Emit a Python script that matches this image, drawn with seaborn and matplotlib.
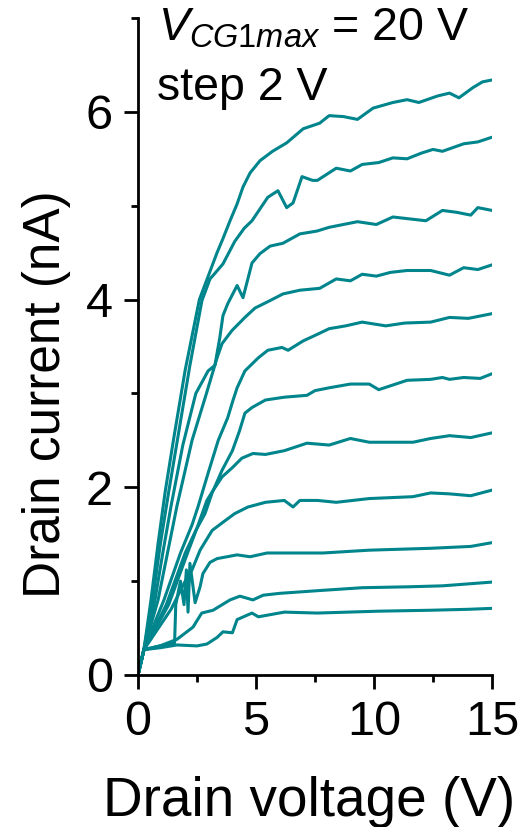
import numpy as np
import pandas as pd
import matplotlib
matplotlib.use("Agg")
import matplotlib.pyplot as plt
import seaborn as sns

# output curves, V_CG1 = 20 V down to 0 V in 2 V steps
V_20 = [0, 0.25, 0.55, 0.85, 1.15, 1.5, 2.0, 2.6, 3.05, 3.35, 3.6, 3.9, 4.2, 4.45, 4.75, 5.17, 5.7,
        6.3, 7.0, 7.7, 8.1, 8.7, 9.3, 9.96, 10.8, 11.4, 11.9, 12.7, 13.2, 13.6, 14.2, 14.6, 15]
I_20 = [0, 0.27, 0.8, 1.4, 1.95, 2.5, 3.25, 4.0, 4.3, 4.5, 4.65, 4.84, 5.02, 5.2, 5.35, 5.48, 5.58,
        5.67, 5.82, 5.88, 5.96, 5.95, 5.92, 6.04, 6.1, 6.13, 6.10, 6.17, 6.2, 6.15, 6.26, 6.32, 6.34]

V_18 = [0, 0.25, 0.62, 0.95, 1.3, 1.7, 2.2, 2.71, 3.05, 3.26, 3.6, 4.1, 4.5, 4.83, 5.5, 5.93, 6.3,
        6.57, 6.95, 7.4, 7.6, 8.4, 9.0, 9.5, 10.2, 10.8, 11.4, 12.0, 12.5, 12.9, 13.8, 14.4, 15]
I_18 = [0, 0.27, 0.8, 1.4, 1.95, 2.55, 3.3, 3.99, 4.22, 4.28, 4.38, 4.62, 4.76, 4.84, 5.09, 5.16, 4.98,
        5.03, 5.31, 5.27, 5.27, 5.4, 5.37, 5.44, 5.46, 5.51, 5.5, 5.56, 5.6, 5.58, 5.66, 5.68, 5.73]

V_16 = [0, 0.25, 0.72, 1.05, 1.4, 1.9, 2.45, 2.97, 3.26, 3.47, 3.6, 3.81, 4.2, 4.45, 4.83, 5.17, 5.6,
        6.14, 6.86, 7.58, 8.1, 8.7, 9.3, 10.1, 10.8, 11.5, 12.2, 12.9, 13.5, 14.1, 14.4, 15]
I_16 = [0, 0.27, 0.8, 1.3, 1.8, 2.45, 3.0, 3.24, 3.3, 3.6, 3.83, 3.96, 4.15, 4.02, 4.39, 4.49, 4.57,
        4.6, 4.7, 4.73, 4.77, 4.8, 4.83, 4.8, 4.88, 4.86, 4.84, 4.95, 4.93, 4.9, 4.98, 4.95]

V_14 = [0, 0.25, 0.85, 1.25, 1.65, 2.29, 2.9, 3.35, 3.56, 3.98, 4.53, 4.96, 5.6, 6.14, 6.86, 7.7, 8.4,
        9.0, 9.5, 10.1, 10.7, 11.4, 12.4, 13.2, 13.8, 14.4, 15]
I_14 = [0, 0.27, 0.8, 1.3, 1.8, 2.5, 3.0, 3.38, 3.53, 3.67, 3.81, 3.91, 3.99, 4.06, 4.1, 4.12, 4.22,
        4.2, 4.27, 4.25, 4.29, 4.31, 4.31, 4.26, 4.34, 4.32, 4.37]

V_12 = [0, 0.25, 1.1, 1.8, 2.29, 2.54, 2.97, 3.4, 3.8, 4.03, 4.2, 4.53, 5.1, 5.5, 6.1, 6.36, 7.0,
        7.6, 8.1, 8.8, 9.5, 10.5, 11.3, 12.4, 13.2, 14.0, 15]
I_12 = [0, 0.27, 0.8, 1.3, 1.6, 1.79, 2.15, 2.5, 2.74, 2.93, 3.06, 3.24, 3.38, 3.46, 3.49, 3.46, 3.56,
        3.63, 3.69, 3.72, 3.76, 3.72, 3.75, 3.76, 3.81, 3.8, 3.85]

V_10 = [0, 0.25, 1.2, 2.0, 2.45, 2.84, 3.14, 3.56, 4.0, 4.3, 4.53, 4.83, 5.4, 6.2, 7.16, 7.5, 8.1,
        9.0, 9.8, 10.2, 11.4, 12.4, 12.9, 13.2, 13.8, 14.5, 15]
I_10 = [0, 0.27, 0.75, 1.3, 1.54, 1.72, 1.94, 2.18, 2.39, 2.6, 2.79, 2.85, 2.93, 2.96, 2.98, 3.03, 3.06,
        3.1, 3.1, 3.04, 3.14, 3.15, 3.17, 3.15, 3.17, 3.16, 3.21]

V_8 = [0, 0.25, 1.3, 2.1, 2.55, 2.92, 3.14, 3.56, 4.0, 4.4, 4.87, 5.4, 6.2, 7.16, 8.1, 9.0, 9.8,
       11.65, 12.4, 13.2, 14.1, 15]
I_8 = [0, 0.27, 0.75, 1.3, 1.6, 1.86, 1.95, 2.11, 2.21, 2.31, 2.36, 2.35, 2.39, 2.47, 2.45, 2.52, 2.48,
       2.48, 2.52, 2.55, 2.53, 2.58]

V_6 = [0, 0.25, 1.4, 2.0, 2.29, 2.63, 3.14, 3.56, 4.1, 4.66, 5.4, 6.2, 6.57, 6.86, 7.6, 8.4, 9.8,
       11.65, 12.4, 13.2, 14.1, 15]
I_6 = [0, 0.27, 0.7, 1.0, 1.12, 1.33, 1.54, 1.62, 1.72, 1.79, 1.84, 1.86, 1.79, 1.86, 1.86, 1.84, 1.88,
       1.9, 1.94, 1.93, 1.91, 1.97]

V_4 = [0, 0.25, 0.93, 1.55, 1.6, 1.8, 1.95, 2.05, 2.12, 2.2, 2.3, 2.42, 2.63, 2.75, 3.05, 3.35, 4.2,
       4.75, 5.47, 6.7, 7.84, 9.8, 12.4, 14.1, 15]
I_4 = [0, 0.27, 0.31, 0.34, 0.75, 1.0, 0.75, 1.12, 0.67, 1.19, 1.0, 0.77, 0.94, 1.08, 1.2, 1.24, 1.28,
       1.26, 1.3, 1.3, 1.3, 1.33, 1.35, 1.37, 1.41]

V_2 = [0, 0.25, 0.93, 1.65, 2.33, 2.7, 3.18, 3.9, 4.32, 4.87, 5.3, 6.0, 7.7, 9.5, 11.5, 12.9, 15]
I_2 = [0, 0.27, 0.31, 0.38, 0.51, 0.66, 0.69, 0.8, 0.84, 0.8, 0.85, 0.87, 0.9, 0.93, 0.94, 0.95, 0.99]

V_0 = [0, 0.25, 0.93, 1.65, 2.5, 2.92, 3.35, 3.6, 4.0, 4.2, 4.83, 5.1, 6.2, 7.6, 10.2, 12.4, 14.0, 15]
I_0 = [0, 0.27, 0.29, 0.32, 0.31, 0.33, 0.4, 0.46, 0.45, 0.59, 0.66, 0.62, 0.67, 0.66, 0.68, 0.69, 0.7, 0.71]

GATE = [20, 18, 16, 14, 12, 10, 8, 6, 4, 2, 0]
V_ALL = [V_20, V_18, V_16, V_14, V_12, V_10, V_8, V_6, V_4, V_2, V_0]
I_ALL = [I_20, I_18, I_16, I_14, I_12, I_10, I_8, I_6, I_4, I_2, I_0]

X_TICKS = [0, 5, 10, 15]
Y_TICKS = [0, 2, 4, 6]
TEAL = "#00858C"


def build_frame():
    rows = []
    for g, vs, cs in zip(GATE, V_ALL, I_ALL):
        for k, (v, c) in enumerate(zip(vs, cs)):
            rows.append({"vcg": g, "k": k, "vd": v, "id": c})
    return pd.DataFrame(rows)


def main():
    sns.set_style("ticks")
    plt.rcParams["font.family"] = ["Liberation Sans", "DejaVu Sans"]
    plt.rcParams["mathtext.fontset"] = "custom"
    plt.rcParams["mathtext.rm"] = "Liberation Sans"
    plt.rcParams["mathtext.it"] = "Liberation Sans:italic"
    for key in ("text.color", "axes.labelcolor", "xtick.color", "ytick.color"):
        plt.rcParams[key] = "black"

    df = build_frame()

    fig = plt.figure(figsize=(5.32, 8.27), dpi=100)
    ax = fig.add_axes([0.2594, 0.1838, 0.6654, 0.7944])

    sns.lineplot(data=df, x="vd", y="id", units="vcg", estimator=None, sort=False,
                 color=TEAL, lw=2.2, legend=False, ax=ax)

    ax.set_xlim(0, 15)
    ax.set_ylim(0, 7)
    ax.set_xticks(X_TICKS)
    ax.set_xticks([2.5, 7.5, 12.5], minor=True)
    ax.set_yticks(Y_TICKS)
    ax.set_yticks([1, 3, 5, 7], minor=True)
    ax.tick_params(which="major", direction="out", length=10, width=2,
                   labelsize=35, pad=8)
    ax.tick_params(which="minor", direction="out", length=5, width=2)
    sns.despine(ax=ax)
    for s in ("left", "bottom"):
        ax.spines[s].set_linewidth(2)
        ax.spines[s].set_color("black")

    ax.set_xlabel("Drain voltage (V)", fontsize=39.5)
    ax.set_ylabel("Drain current (nA)", fontsize=37)
    ax.xaxis.set_label_coords(0.483, -0.153)
    ax.yaxis.set_label_coords(-0.189, 0.428)

    fig.text(0.297, 0.9516, r"$V_{CG1max}$ = 20 V", fontsize=33.5, va="baseline", ha="left")
    fig.text(0.2945, 0.879, "step 2 V", fontsize=33.5, va="baseline", ha="left")

    fig.savefig("out.png", dpi=100)
    plt.close(fig)


if __name__ == "__main__":
    main()
